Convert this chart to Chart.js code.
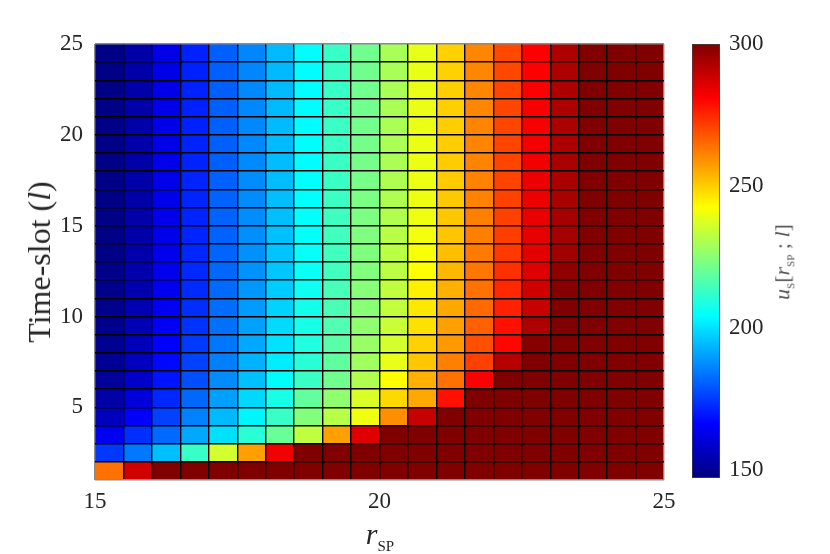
<!DOCTYPE html>
<html>
<head>
<meta charset="utf-8">
<script src="https://cdn.jsdelivr.net/npm/chart.js@4.4.1/dist/chart.umd.min.js"></script>
<style>
  body { margin: 0; background: #fff; }
  #wrap { position: relative; width: 830px; height: 554px; font-family: 'Liberation Serif', 'Times New Roman', serif; color: #262626; }
  #heat { position: absolute; left: 0; top: 0; }
  #cbar { position: absolute; left: 680px; top: 0; }
  .lbl { position: absolute; white-space: nowrap; line-height: 1; }
  #ylab { left: 39px; top: 262px; font-size: 32px; transform: translate(-50%, -50%) rotate(-90deg); }
  #xlab { left: 380px; top: 536px; font-size: 30px; transform: translate(-50%, -50%); }
  #xlab sub, #cblab sub { font-size: 0.5em; font-style: normal; }
  #cblab { left: 784px; top: 262px; font-size: 22px; color: #555; transform: translate(-50%, -50%) rotate(-90deg); }
</style>
</head>
<body>
<div id="wrap">
  <canvas id="heat" width="830" height="554"></canvas>
  <canvas id="cbar" width="150" height="554"></canvas>
  <div class="lbl" id="ylab">Time-slot (<i>l</i>)</div>
  <div class="lbl" id="xlab"><i>r</i><sub>SP</sub></div>
  <div class="lbl" id="cblab"><i>u</i><sub>S</sub>[<i>r</i><sub>SP</sub> ; <i>l</i>]</div>
</div>
<script>
// r_SP cells (left edges, each cell 0.5 wide)
const rspCells = [15, 15.5, 16, 16.5, 17, 17.5, 18, 18.5, 19, 19.5, 20, 20.5, 21, 21.5, 22, 22.5, 23, 23.5, 24, 24.5];
// time slots (each row spans l .. l+1)
const timeSlots = [1, 2, 3, 4, 5, 6, 7, 8, 9, 10, 11, 12, 13, 14, 15, 16, 17, 18, 19, 20, 21, 22, 23, 24];

// u_S values, one row per time slot
const uSlot01 = [264, 287.8, 300, 300, 300, 300, 300, 300, 300, 300, 300, 300, 300, 300, 300, 300, 300, 300, 300, 300];
const uSlot02 = [174.5, 184.1, 194.8, 212.8, 235.8, 256.8, 283.2, 300, 300, 300, 300, 300, 300, 300, 300, 300, 300, 300, 300, 300];
const uSlot03 = [163.8, 173, 181.8, 191.3, 199.8, 210.5, 220, 233, 256.8, 285.5, 300, 300, 300, 300, 300, 300, 300, 300, 300, 300];
const uSlot04 = [156, 165.5, 176, 185.5, 194, 203, 212.8, 224, 232, 240.4, 259.4, 289.3, 300, 300, 300, 300, 300, 300, 300, 300];
const uSlot05 = [152.8, 161, 172, 181.5, 190.2, 198.6, 208, 219, 225.9, 236.9, 248.4, 255.6, 278.5, 300, 300, 300, 300, 300, 300, 300];
const uSlot06 = [151, 158.3, 169, 178, 187, 195, 204, 213, 221.2, 230.8, 242.6, 254.5, 264, 280.9, 300, 300, 300, 300, 300, 300];
const uSlot07 = [150.2, 156.6, 167.2, 176, 185.2, 192.8, 201.5, 210.5, 218.7, 228.5, 239.2, 251, 261.7, 271.3, 291.6, 300, 300, 300, 300, 300];
const uSlot08 = [149.6, 155.8, 166, 174.8, 184, 191.3, 200, 209.2, 217.6, 227.4, 235.8, 249.5, 257.9, 269, 280, 299, 300, 300, 300, 300];
const uSlot09 = [149.2, 155.1, 165.2, 173.8, 183, 190.2, 198.8, 208, 216.3, 225.9, 234.3, 247.2, 256.8, 266.5, 278.5, 292.8, 300, 300, 300, 300];
const uSlot10 = [148.9, 154.6, 164.5, 173, 182.5, 189.4, 197.8, 207.2, 215.5, 225, 233.5, 246, 255.6, 265.2, 276, 289.3, 300, 300, 300, 300];
const uSlot11 = [148.6, 154.2, 164, 172.5, 182, 188.8, 196.8, 206.5, 215.1, 224.7, 233.1, 244.9, 254.5, 264, 274.8, 287.8, 299, 300, 300, 300];
const uSlot12 = [148.4, 153.8, 163.6, 172.1, 181.5, 188.2, 196, 205.8, 214.2, 223.8, 232.3, 242.6, 253.3, 263, 273.6, 285.9, 297.7, 300, 300, 300];
const uSlot13 = [148.2, 153.6, 163.3, 171.8, 181.2, 187.8, 195.5, 205.3, 214.1, 223.6, 232.1, 241.5, 252.2, 262.4, 272.4, 284.8, 295, 300, 300, 300];
const uSlot14 = [148.1, 153.4, 163.1, 171.6, 181, 187.5, 195, 205, 214, 223.5, 232, 240.8, 251.3, 261.9, 271.6, 284.3, 294.3, 300, 300, 300];
const uSlot15 = [148, 153.3, 163, 171.5, 180.9, 187.3, 194.8, 204.8, 213.8, 223.2, 230.8, 240.4, 251, 261.6, 271.2, 284, 294, 300, 300, 300];
const uSlot16 = [148, 153.2, 163, 171.4, 180.8, 187.1, 194.6, 204.4, 213.3, 222.8, 230.5, 240.2, 250.7, 261.4, 271, 283.7, 293.8, 300, 300, 300];
const uSlot17 = [148, 153.2, 162.9, 171.3, 180.7, 186.9, 194.5, 204.3, 213.1, 222.4, 230.3, 240, 250.5, 261.2, 270.9, 283.3, 293.6, 300, 300, 300];
const uSlot18 = [148, 153.1, 162.9, 171.2, 180.6, 186.8, 194.4, 204.2, 213, 222, 230.1, 239.8, 250.3, 261.1, 270.7, 282.9, 293.5, 300, 300, 300];
const uSlot19 = [148, 153.1, 162.8, 171.2, 180.6, 186.7, 194.3, 204.2, 212.9, 221.8, 230, 239.7, 250.1, 261, 270.6, 282.5, 293.3, 300, 300, 300];
const uSlot20 = [148, 153.1, 162.8, 171.1, 180.5, 186.6, 194.2, 204.1, 212.9, 221.6, 229.9, 239.6, 249.9, 260.9, 270.5, 282.1, 293.2, 300, 300, 300];
const uSlot21 = [148, 153, 162.8, 171.1, 180.5, 186.5, 194.1, 204.1, 212.8, 221.4, 229.8, 239.5, 249.8, 260.8, 270.4, 281.8, 293.1, 300, 300, 300];
const uSlot22 = [148, 153, 162.7, 171, 180.4, 186.5, 194.1, 204, 212.8, 221.3, 229.7, 239.4, 249.7, 260.7, 270.3, 281.5, 293, 300, 300, 300];
const uSlot23 = [148, 153, 162.7, 171, 180.4, 186.4, 194, 204, 212.8, 221.2, 229.6, 239.3, 249.6, 260.6, 270.2, 281.2, 292.9, 300, 300, 300];
const uSlot24 = [148, 153, 162.7, 171, 180.4, 186.4, 194, 204, 212.8, 221.2, 229.6, 239.2, 249.5, 260.6, 270.1, 280.9, 292.8, 300, 300, 300];

const uRows = [uSlot01, uSlot02, uSlot03, uSlot04, uSlot05, uSlot06, uSlot07, uSlot08, uSlot09, uSlot10, uSlot11, uSlot12,
               uSlot13, uSlot14, uSlot15, uSlot16, uSlot17, uSlot18, uSlot19, uSlot20, uSlot21, uSlot22, uSlot23, uSlot24];

// tick labels
const xTickLabels = [15, 20, 25];
const yTickLabels = [5, 10, 15, 20, 25];
const cbTicks = [150, 200, 250, 300];

// colour limits of the colour bar
const cMin = 147;
const cMax = 300;

const cellWidth = 0.5;
const tickFont = { family: "'Liberation Serif', 'Times New Roman', serif", size: 23 };
const textColor = '#262626';

// jet colormap
function jetRGB(t) {
    const clamp = v => Math.max(0, Math.min(1, v));
    const r = clamp(Math.min(4 * t - 1.5, -4 * t + 4.5));
    const g = clamp(Math.min(4 * t - 0.5, -4 * t + 3.5));
    const b = clamp(Math.min(4 * t + 0.5, -4 * t + 2.5));
    return `rgb(${Math.round(r * 255)}, ${Math.round(g * 255)}, ${Math.round(b * 255)})`;
}

function jet(v) {
    return jetRGB(Math.max(0, Math.min(1, (v - cMin) / (cMax - cMin))));
}

// grid lines sit on the cell edges
const xEdges = rspCells.concat([rspCells[rspCells.length - 1] + cellWidth]);
const yEdges = timeSlots.concat([timeSlots[timeSlots.length - 1] + 1]);

function edgeColor(ctx, lo, hi) {
    const v = ctx.tick ? ctx.tick.value : null;
    return (v === lo || v === hi) ? '#8a8a8a' : '#000';
}

// Heat map: one floating-bar dataset per time slot
const heatDatasets = timeSlots.map((l, k) => ({
    data: rspCells.map(r => ({ x: r + cellWidth / 2, y: [l, l + 1] })),
    backgroundColor: uRows[k].map(v => jet(v)),
    borderWidth: 0,
    grouped: false,
    barPercentage: 1,
    categoryPercentage: 1
}));

new Chart(document.getElementById('heat'), {
    type: 'bar',
    data: { datasets: heatDatasets },
    options: {
        responsive: false,
        animation: false,
        events: [],
        layout: { padding: { left: 0, top: 44, right: 166, bottom: 0 } },
        plugins: { legend: { display: false }, tooltip: { enabled: false } },
        scales: {
            x: {
                type: 'linear',
                min: xEdges[0],
                max: xEdges[xEdges.length - 1],
                offset: false,
                afterBuildTicks: s => { s.ticks = xEdges.map(v => ({ value: v })); },
                afterFit: s => { s.height = 74; },
                grid: {
                    z: 1,
                    offset: false,
                    drawTicks: false,
                    lineWidth: 1.4,
                    color: ctx => edgeColor(ctx, xEdges[0], xEdges[xEdges.length - 1])
                },
                border: { display: false },
                ticks: {
                    autoSkip: false,
                    maxRotation: 0,
                    padding: 8,
                    font: tickFont,
                    color: textColor,
                    callback: v => xTickLabels.includes(v) ? String(v) : ''
                }
            },
            y: {
                type: 'linear',
                min: yEdges[0],
                max: yEdges[yEdges.length - 1],
                afterBuildTicks: s => { s.ticks = yEdges.map(v => ({ value: v })); },
                afterFit: s => { s.width = 95; },
                grid: {
                    z: 1,
                    drawTicks: false,
                    lineWidth: 1.4,
                    color: ctx => edgeColor(ctx, yEdges[0], yEdges[yEdges.length - 1])
                },
                border: { display: false },
                ticks: {
                    autoSkip: false,
                    padding: 12,
                    font: tickFont,
                    color: textColor,
                    callback: v => yTickLabels.includes(v) ? String(v) : ''
                }
            }
        }
    }
});

// Colour bar
function jetGradient(chart) {
    const yScale = chart.scales.y;
    if (!chart.chartArea || !yScale) return jet(cMin);
    const y0 = yScale.getPixelForValue(cMin);
    const y1 = yScale.getPixelForValue(cMax);
    const grad = chart.ctx.createLinearGradient(0, y0, 0, y1);
    [0, 1 / 8, 3 / 8, 5 / 8, 7 / 8, 1].forEach(t => grad.addColorStop(t, jetRGB(t)));
    return grad;
}

new Chart(document.getElementById('cbar'), {
    type: 'bar',
    data: {
        labels: ['u'],
        datasets: [{
            data: [[cMin, cMax]],
            backgroundColor: ctx => jetGradient(ctx.chart),
            borderColor: '#444',
            borderWidth: 1,
            borderSkipped: false,
            barPercentage: 1,
            categoryPercentage: 1
        }]
    },
    options: {
        responsive: false,
        animation: false,
        events: [],
        layout: { padding: { left: 12, top: 44, right: 0, bottom: 76 } },
        plugins: { legend: { display: false }, tooltip: { enabled: false } },
        scales: {
            x: { display: false },
            y: {
                position: 'right',
                min: cMin,
                max: cMax,
                afterBuildTicks: s => { s.ticks = cbTicks.map(v => ({ value: v })); },
                afterFit: s => { s.width = 110; },
                grid: { display: false, drawTicks: false },
                border: { display: false },
                ticks: { padding: 9, font: tickFont, color: textColor }
            }
        }
    }
});
</script>
</body>
</html>
